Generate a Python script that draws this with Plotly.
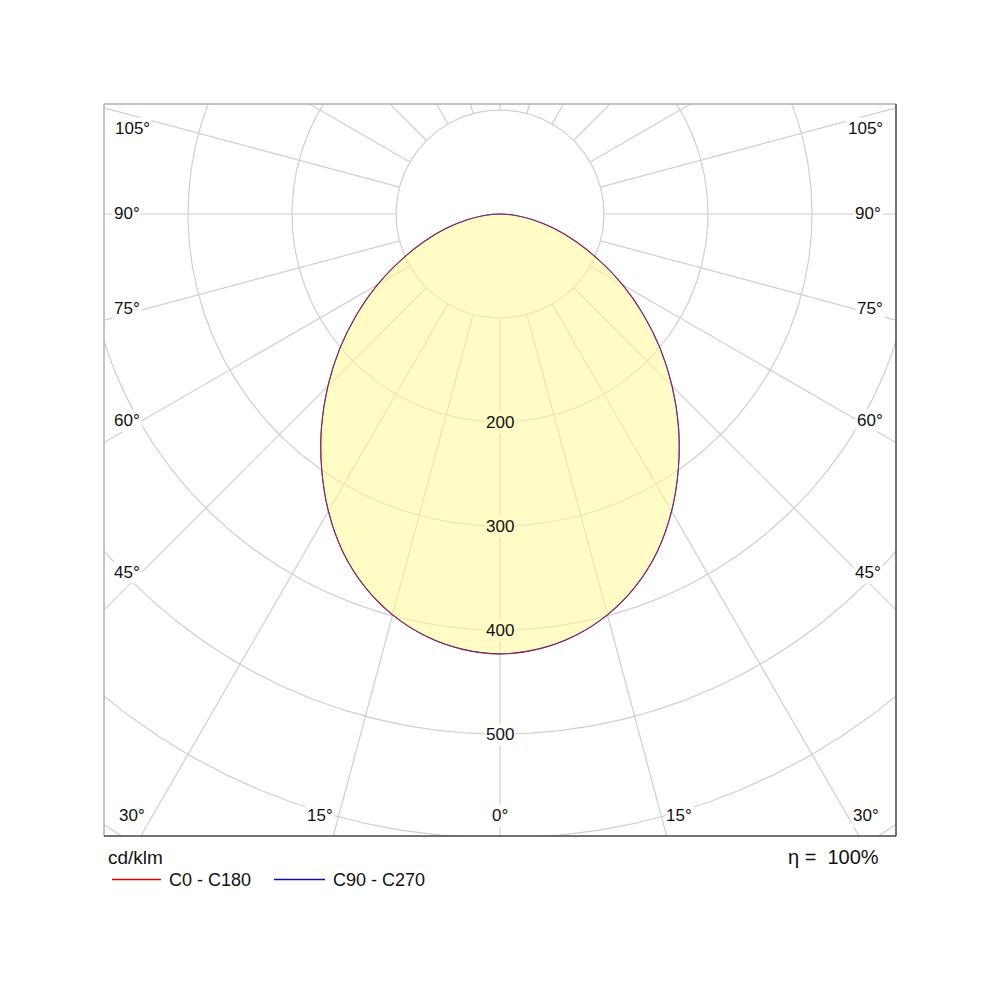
import numpy as np
import plotly.graph_objects as go

# ---- data (cd/klm) ----
gamma_deg = [0, 5, 10, 15, 20, 25, 30, 35, 40, 45, 50, 55, 60, 65, 70, 75, 80, 85, 90]
c0_c180 = [423, 420, 412, 399, 381, 358, 330, 299, 267, 234, 201, 168, 136, 105, 78, 54, 32, 14, 0]
c90_c270 = [423, 420, 412, 399, 381, 358, 330, 299, 267, 234, 201, 168, 136, 105, 78, 54, 32, 14, 0]
ring_values = [100, 200, 300, 400, 500, 600, 700]
ring_label_values = [200, 300, 400, 500]
spoke_angles = list(range(0, 360, 15))
angle_labels_left = ["105°", "90°", "75°", "60°", "45°", "30°", "15°"]
angle_labels_right = ["105°", "90°", "75°", "60°", "45°", "30°", "15°"]
bottom_label = "0°"
efficiency_text = "η =\u00a0 100%"
unit_text = "cd/klm"
series_names = ["C0 - C180", "C90 - C270"]

# ---- layout constants (page pixels) ----
BODY = 8            # default page margin of the html body
PX = 1.04           # pixels per cd/klm
FL, FR, FT, FB = 104, 896, 104, 836   # frame edges on the page
CX, CY = 500, 214   # centre of the diagram on the page
xr = [(FL - CX) / PX, (FR - CX) / PX]
yr = [(CY - FB) / PX, (CY - FT) / PX]

GRID = "#cfcfcf"
FILL = "rgba(255,250,150,0.55)"
FILL_SOLID = "#FFFCC5"
FONT = "Arial, Liberation Sans, sans-serif"


def pxy(px, py):
    return (px - CX) / PX, (CY - py) / PX


def paper(px, py):
    return (px - FL) / (FR - FL), (FB - py) / (FB - FT)


fig = go.Figure()

# rings
t = np.linspace(0, 2 * np.pi, 721)
for rv in ring_values:
    fig.add_trace(go.Scatter(x=rv * np.cos(t), y=rv * np.sin(t), mode="lines",
                             line=dict(color=GRID, width=1.2), hoverinfo="skip",
                             showlegend=False))

# spokes
sx, sy = [], []
for a in spoke_angles:
    ar = np.radians(a)
    r0, r1 = ring_values[0], 900
    sx += [r0 * np.sin(ar), r1 * np.sin(ar), None]
    sy += [-r0 * np.cos(ar), -r1 * np.cos(ar), None]
fig.add_trace(go.Scatter(x=sx, y=sy, mode="lines", line=dict(color=GRID, width=1.2),
                         hoverinfo="skip", showlegend=False))


def closed_curve(vals):
    g = np.array(gamma_deg, dtype=float)
    v = np.array(vals, dtype=float)
    ang = np.concatenate([-g[::-1], g[1:]])
    rad = np.concatenate([v[::-1], v[1:]])
    ar = np.radians(ang)
    return rad * np.sin(ar), -rad * np.cos(ar)


x0, y0 = closed_curve(c0_c180)
x1, y1 = closed_curve(c90_c270)

# fill
fig.add_trace(go.Scatter(x=x0, y=y0, mode="lines", fill="toself", fillcolor=FILL,
                         line=dict(color="rgba(0,0,0,0)", width=0, shape="spline"),
                         hoverinfo="skip", showlegend=False))
# curves
fig.add_trace(go.Scatter(x=x0, y=y0, mode="lines", name=series_names[0],
                         line=dict(color="#cc0000", width=1.1, shape="spline"),
                         showlegend=False))
fig.add_trace(go.Scatter(x=x1, y=y1, mode="lines", name=series_names[1],
                         line=dict(color="#4040b0", width=1.0, shape="spline"),
                         opacity=0.8, showlegend=False))

annotations = []
# ring labels
for rv in ring_label_values:
    inside = rv < c0_c180[0]
    annotations.append(dict(x=0, y=-rv, xref="x", yref="y", text=str(rv), showarrow=False,
                            font=dict(family=FONT, size=17, color="#111"),
                            bgcolor=FILL_SOLID if inside else "white", borderpad=1))

# angle labels (pixel positions in the frame)
left_pos = [(132, 128), (127, 213), (127, 308), (127, 420), (127, 572), (132, 815), (320, 815)]
right_pos = [(865, 128), (868, 213), (870, 308), (870, 420), (868, 572), (866, 815), (679, 815)]
for txts, poss in [(angle_labels_left, left_pos), (angle_labels_right, right_pos)]:
    for txt, (px, py) in zip(txts, poss):
        x, y = pxy(px, py)
        annotations.append(dict(x=x, y=y, xref="x", yref="y", text=txt, showarrow=False,
                                font=dict(family=FONT, size=17, color="#111"),
                                bgcolor="white", borderpad=1))
x, y = pxy(500, 815)
annotations.append(dict(x=x, y=y, xref="x", yref="y", text=bottom_label, showarrow=False,
                        font=dict(family=FONT, size=17, color="#111"), bgcolor="white",
                        borderpad=1))

# unit + efficiency
ux, uy = paper(106, 857)
annotations.append(dict(x=ux, y=uy, xref="paper", yref="paper", text=unit_text,
                        showarrow=False, xanchor="left", yanchor="middle",
                        font=dict(family=FONT, size=19, color="#111")))
ex, ey = paper(881, 857)
annotations.append(dict(x=ex, y=ey, xref="paper", yref="paper", text=efficiency_text,
                        showarrow=False, xanchor="right", yanchor="middle",
                        font=dict(family=FONT, size=20, color="#111")))

# legend (manual)
shapes = []
leg = [(112, 161, 167, "#e00000"), (274, 325, 331, "#1010a0")]
for (lx0, lx1, tx, col), name in zip(leg, series_names):
    a0, b0 = paper(lx0, 879.5)
    a1, _ = paper(lx1, 879.5)
    shapes.append(dict(type="line", xref="paper", yref="paper", x0=a0, x1=a1, y0=b0, y1=b0,
                       line=dict(color=col, width=1.5)))
    tx_, ty_ = paper(tx, 880)
    annotations.append(dict(x=tx_, y=ty_, xref="paper", yref="paper", text=name,
                            showarrow=False, xanchor="left", yanchor="middle",
                            font=dict(family=FONT, size=18, color="#111")))

# frame
shapes += [
    dict(type="line", xref="paper", yref="paper", x0=0, x1=1, y0=1, y1=1, line=dict(color="#b0b0b0", width=1.5)),
    dict(type="line", xref="paper", yref="paper", x0=0, x1=0, y0=0, y1=1, line=dict(color="#b0b0b0", width=1.5)),
    dict(type="line", xref="paper", yref="paper", x0=1, x1=1, y0=0, y1=1, line=dict(color="#444444", width=1.5)),
    dict(type="line", xref="paper", yref="paper", x0=0, x1=1, y0=0, y1=0, line=dict(color="#444444", width=1.5)),
]

fig.update_layout(
    width=1000, height=1000,
    margin=dict(l=FL - BODY, r=1000 - (FR - BODY), t=FT - BODY, b=1000 - (FB - BODY), pad=0),
    paper_bgcolor="white", plot_bgcolor="white",
    xaxis=dict(range=xr, showgrid=False, zeroline=False, showticklabels=False,
               ticks="", fixedrange=True),
    yaxis=dict(range=yr, showgrid=False, zeroline=False, showticklabels=False,
               ticks="", fixedrange=True),
    annotations=annotations, shapes=shapes, showlegend=False,
)

fig.write_html("out.html")
